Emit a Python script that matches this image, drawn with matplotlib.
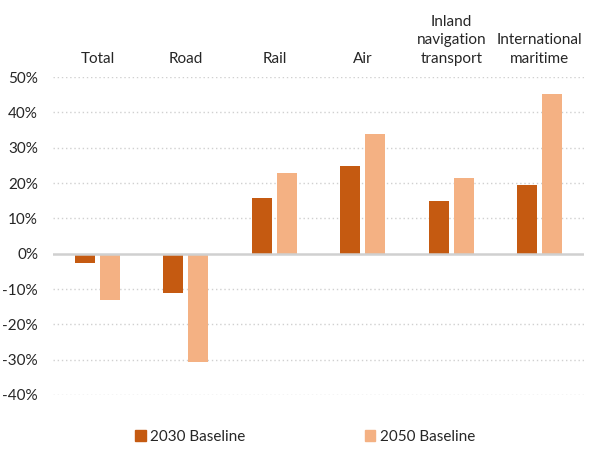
import matplotlib
matplotlib.use("Agg")
import matplotlib.pyplot as plt
import matplotlib.transforms as mtransforms
from matplotlib.patches import Patch
import numpy as np

categories = ["Total", "Road", "Rail", "Air", "Inland\nnavigation\ntransport", "International\nmaritime"]
series_names = ["2030 Baseline", "2050 Baseline"]
vals_2030 = [-2.5, -11.0, 15.8, 24.9, 14.9, 19.5]
vals_2050 = [-13.0, -30.8, 22.9, 34.0, 21.5, 45.3]
yticks = [-40, -30, -20, -10, 0, 10, 20, 30, 40, 50]

c2030 = "#C55A11"
c2050 = "#F4B183"
txt = "#262626"

plt.rcParams['font.family'] = ['Lato', 'DejaVu Sans']

fig = plt.figure(figsize=(5.91, 4.73), dpi=100)
ax = fig.add_axes([0.0902, 0.165, 0.988 - 0.0902, 0.837 - 0.165])

x = np.arange(len(categories))
w = 0.226
off = 0.141
ax.bar(x - off, vals_2030, w, color=c2030, zorder=3)
ax.bar(x + off, vals_2050, w, color=c2050, zorder=3)

ax.set_xlim(-0.5, len(categories) - 0.5)
ax.set_ylim(-40, 50)
ax.set_yticks(yticks)
ax.set_yticklabels([f"{t}%" for t in yticks], fontsize=11, color=txt)
ax.tick_params(axis='y', length=0, pad=11)
ax.set_xticks([])
for s in ax.spines.values():
    s.set_visible(False)

for t in yticks:
    if t == 0:
        continue
    ax.axhline(t, color="#D0D0D0", lw=1.0, ls=(0, (1, 2)), zorder=1)
ax.axhline(0, color="#D0D0D0", lw=1.8, zorder=4)

trans = mtransforms.blended_transform_factory(ax.transData, ax.transAxes)
for xi, c in zip(x, categories):
    ax.text(xi, 1.036, c, transform=trans, ha='center', va='bottom',
            fontsize=11, color=txt, linespacing=1.4, multialignment='center')

handles = [Patch(color=c2030), Patch(color=c2050)]
fig.legend(handles, series_names, loc='center', bbox_to_anchor=(0.516, 0.076),
           ncol=2, frameon=False, fontsize=11, handlelength=0.7, handleheight=0.7,
           handletextpad=0.3, columnspacing=7.8, labelcolor=txt)

fig.savefig("out.png", dpi=100)
